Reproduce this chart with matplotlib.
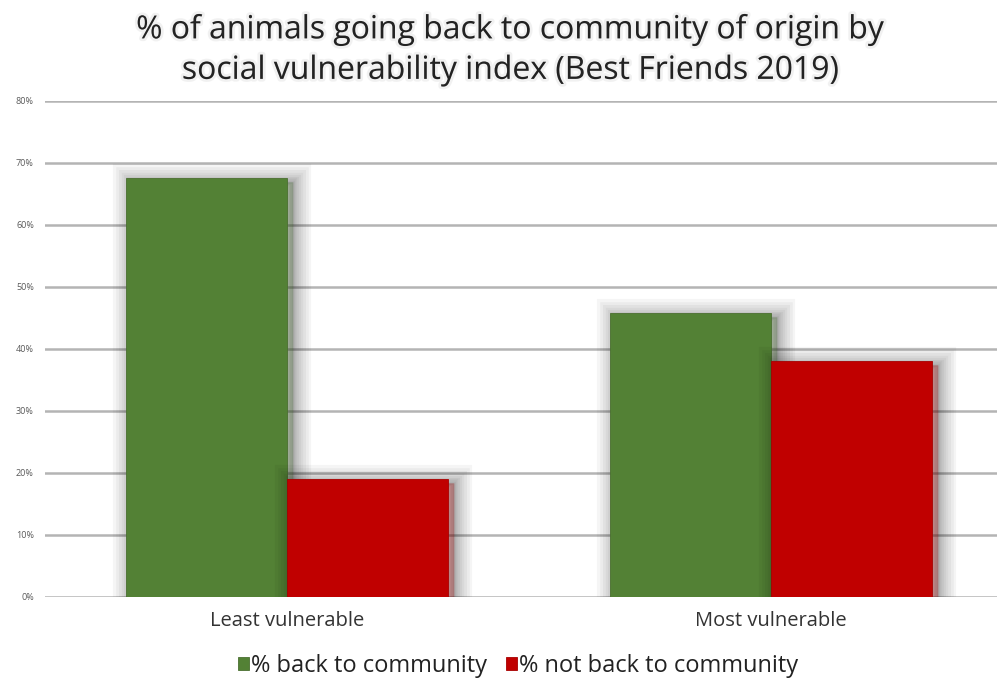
import matplotlib
matplotlib.use("Agg")
import matplotlib.pyplot as plt
import matplotlib.patheffects as pe
import numpy as np

plt.rcParams['font.family'] = ['Open Sans', 'DejaVu Sans']

categories = ['Least vulnerable', 'Most vulnerable']
back_to_community = [67.6, 45.8]
not_back_to_community = [19.0, 38.1]
series_names = ['% back to community', '% not back to community']
yticks = [0, 10, 20, 30, 40, 50, 60, 70, 80]

green = '#538135'
red = '#c00000'

fig = plt.figure(figsize=(9.97, 6.82), dpi=100)
W, H = 997, 682
# axes box in pixels: left 45, right 997, bottom y=597, top y=101
ax = fig.add_axes([45 / W, 1 - 597 / H, (997 - 45) / W, (597 - 101) / H])

x = np.arange(len(categories))
width = 1 / 3

# soft shadow around the bars
shadow = [pe.Stroke(linewidth=lw, foreground='black', alpha=0.04, offset=(4, -3))
          for lw in (26, 22, 18, 14, 11, 8, 6, 4, 2)] + [pe.Normal()]

b1 = ax.bar(x - width / 2, back_to_community, width, color=green,
            edgecolor='#4a6f30', linewidth=0.6, zorder=3, label=series_names[0])
b2 = ax.bar(x + width / 2, not_back_to_community, width, color=red,
            edgecolor='#a80000', linewidth=0.6, zorder=3, label=series_names[1])
for b in list(b1) + list(b2):
    b.set_path_effects(shadow)

ax.set_xlim(-0.5, (997 - 287) / 484)
ax.set_ylim(0, 80)
ax.set_yticks(yticks)
ax.set_yticklabels([f'{t}%' for t in yticks], fontsize=6.5, color='#595959')
ax.yaxis.grid(True, color='#b4b4b4', linewidth=1.8, zorder=0)
ax.set_axisbelow(True)
ax.tick_params(axis='y', length=0, pad=8)
ax.tick_params(axis='x', length=0, pad=10)
ax.set_xticks(x)
ax.set_xticklabels(categories, fontsize=14.5, color='#333333')
for s in ax.spines.values():
    s.set_visible(False)

title_fx = [pe.withStroke(linewidth=4, foreground='#ececec', alpha=0.7)]
fig.text(0.513, 1 - 50 / H,
         '% of animals going back to community of origin by\nsocial vulnerability index (Best Friends 2019)',
         ha='center', va='center', fontsize=23, color='#222222',
         linespacing=1.3, path_effects=title_fx)

leg = fig.legend(handles=[b1, b2], labels=series_names, loc='center',
                 bbox_to_anchor=(0.52, 1 - 666 / H), ncol=2, frameon=False,
                 fontsize=17, handlelength=0.45, handleheight=0.45,
                 handletextpad=0.1, columnspacing=0.8)
for t in leg.get_texts():
    t.set_color('#222222')
for h in leg.legend_handles:
    h.set_path_effects([])

fig.savefig('out.png', dpi=100)
